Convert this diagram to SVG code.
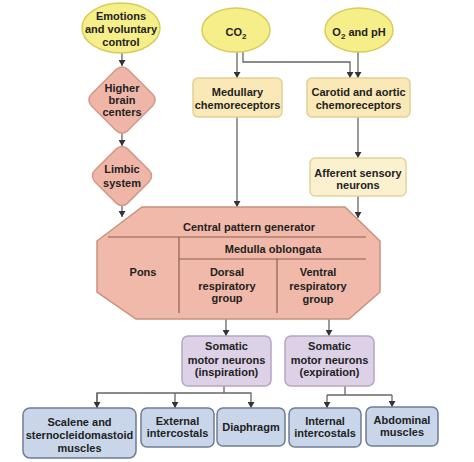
<svg xmlns="http://www.w3.org/2000/svg" width="474" height="462" viewBox="0 0 474 462">
<style>
text{font-family:"Liberation Sans",Arial,sans-serif;font-weight:bold;font-size:11px;fill:#222;text-anchor:middle}
.ell{fill:#f6ee88;stroke:#d8cc5a;stroke-width:1.5}
.dia{fill:#efb6a7;stroke:#cf9a8a;stroke-width:1.5}
.chem{fill:#fae8b6;stroke:#e2cf96;stroke-width:1.5}
.aff{fill:#fcf1cf;stroke:#e2d29c;stroke-width:1.5}
.cpg{fill:#f0b9a9;stroke:#c8917f;stroke-width:1.5}
.div{stroke:#8e5e50;stroke-width:1.2;fill:none}
.som{fill:#dcd1e6;stroke:#b4a6c3;stroke-width:1.5}
.mus{fill:#c9d6ea;stroke:#6e7c96;stroke-width:1.5}
.con{stroke:#666;stroke-width:1.3;fill:none}
</style>
<defs>
<marker id="ah" markerWidth="6" markerHeight="7" refX="6" refY="3.5" orient="auto" markerUnits="userSpaceOnUse">
<path d="M0,0 L6,3.5 L0,7 Z" fill="#333"/>
</marker>
</defs>
<rect width="474" height="462" fill="#fff"/>

<g id="connectors">
<line class="con" x1="122" y1="53" x2="122" y2="66" marker-end="url(#ah)"/>
<line class="con" x1="122" y1="133" x2="122" y2="146" marker-end="url(#ah)"/>
<line class="con" x1="122" y1="205" x2="122" y2="217" marker-end="url(#ah)"/>
<line class="con" x1="237" y1="52" x2="237" y2="78" marker-end="url(#ah)"/>
<polyline class="con" points="243,50 243,62 350,62 350,78" marker-end="url(#ah)"/>
<line class="con" x1="358" y1="52" x2="358" y2="78" marker-end="url(#ah)"/>
<line class="con" x1="237" y1="117" x2="237" y2="207" marker-end="url(#ah)"/>
<line class="con" x1="358" y1="117" x2="358" y2="158" marker-end="url(#ah)"/>
<line class="con" x1="358" y1="196" x2="358" y2="218" marker-end="url(#ah)"/>
<line class="con" x1="226" y1="318" x2="226" y2="336" marker-end="url(#ah)"/>
<line class="con" x1="329" y1="318" x2="329" y2="336" marker-end="url(#ah)"/>
<line class="con" x1="224" y1="386" x2="224" y2="393"/>
<polyline class="con" points="97,408 97,393 251,393 251,408" marker-end="url(#ah)"/>
<line class="con" x1="97" y1="393" x2="97" y2="408" marker-end="url(#ah)"/>
<line class="con" x1="175" y1="393" x2="175" y2="408" marker-end="url(#ah)"/>
<line class="con" x1="345" y1="386" x2="345" y2="395"/>
<polyline class="con" points="327,395 392,395"/>
<line class="con" x1="327" y1="395" x2="327" y2="408" marker-end="url(#ah)"/>
<line class="con" x1="392" y1="395" x2="392" y2="407" marker-end="url(#ah)"/>
</g>

<g id="emotions">
<ellipse class="ell" cx="121" cy="28" rx="39" ry="25"/>
<text x="121" y="20">Emotions</text>
<text x="121" y="33">and voluntary</text>
<text x="121" y="46">control</text>
</g>
<g id="co2">
<ellipse class="ell" cx="236" cy="30" rx="34" ry="22"/>
<text x="236" y="36">CO<tspan font-size="8" dy="3">2</tspan></text>
</g>
<g id="o2ph">
<ellipse class="ell" cx="359" cy="30" rx="34" ry="22"/>
<text x="359" y="36">O<tspan font-size="8" dy="3">2</tspan><tspan dy="-3"> and pH</tspan></text>
</g>
<g id="higher-brain">
<rect class="dia" x="96.3" y="74.3" width="51.4" height="51.4" rx="8" transform="rotate(45 122 100)"/>
<text x="122" y="92">Higher</text>
<text x="122" y="104">brain</text>
<text x="122" y="116">centers</text>
</g>
<g id="limbic">
<rect class="dia" x="98.8" y="152.8" width="46.4" height="46.4" rx="8" transform="rotate(45 122 176)"/>
<text x="122" y="173">Limbic</text>
<text x="122" y="187">system</text>
</g>
<g id="medullary">
<rect class="chem" x="193" y="78" width="89" height="39" rx="5"/>
<text x="237.5" y="96">Medullary</text>
<text x="237.5" y="109">chemoreceptors</text>
</g>
<g id="carotid">
<rect class="chem" x="307" y="78" width="103" height="39" rx="5"/>
<text x="358.5" y="96">Carotid and aortic</text>
<text x="358.5" y="109">chemoreceptors</text>
</g>
<g id="afferent">
<rect class="aff" x="310" y="158" width="96" height="38" rx="5"/>
<text x="358" y="177">Afferent sensory</text>
<text x="358" y="189">neurons</text>
</g>
<g id="cpg">
<path class="cpg" d="M142,207 L345,207 L380,241 L380,292 L349,319 L136,319 L97,292 L97,241 Z"/>
<line class="div" x1="108" y1="237" x2="366" y2="237"/>
<line class="div" x1="179" y1="237" x2="179" y2="313"/>
<line class="div" x1="179" y1="259" x2="366" y2="259"/>
<line class="div" x1="277" y1="259" x2="277" y2="313"/>
<text x="249" y="231">Central pattern generator</text>
<text x="273" y="253">Medulla oblongata</text>
<text x="143" y="276">Pons</text>
<text x="227" y="276">Dorsal</text>
<text x="227" y="290">respiratory</text>
<text x="227" y="302">group</text>
<text x="318" y="276">Ventral</text>
<text x="318" y="290">respiratory</text>
<text x="318" y="303">group</text>
</g>
<g id="somatic-insp">
<rect class="som" x="182" y="336" width="89" height="50" rx="6"/>
<text x="226.5" y="350">Somatic</text>
<text x="226.5" y="364">motor neurons</text>
<text x="226.5" y="376">(inspiration)</text>
</g>
<g id="somatic-exp">
<rect class="som" x="285" y="336" width="89" height="50" rx="6"/>
<text x="329.5" y="350">Somatic</text>
<text x="329.5" y="364">motor neurons</text>
<text x="329.5" y="376">(expiration)</text>
</g>
<g id="scalene">
<rect class="mus" x="23" y="408" width="113" height="50" rx="7"/>
<text x="79.5" y="426">Scalene and</text>
<text x="79.5" y="439">sternocleidomastoid</text>
<text x="79.5" y="452">muscles</text>
</g>
<g id="external">
<rect class="mus" x="141" y="408" width="73" height="39" rx="6"/>
<text x="177.5" y="425">External</text>
<text x="177.5" y="437">intercostals</text>
</g>
<g id="diaphragm">
<rect class="mus" x="217" y="408" width="68" height="38" rx="6"/>
<text x="251" y="431">Diaphragm</text>
</g>
<g id="internal">
<rect class="mus" x="289" y="408" width="72" height="39" rx="6"/>
<text x="325" y="425">Internal</text>
<text x="325" y="437">intercostals</text>
</g>
<g id="abdominal">
<rect class="mus" x="366" y="407" width="72" height="39" rx="6"/>
<text x="402" y="424">Abdominal</text>
<text x="402" y="436">muscles</text>
</g>
</svg>
